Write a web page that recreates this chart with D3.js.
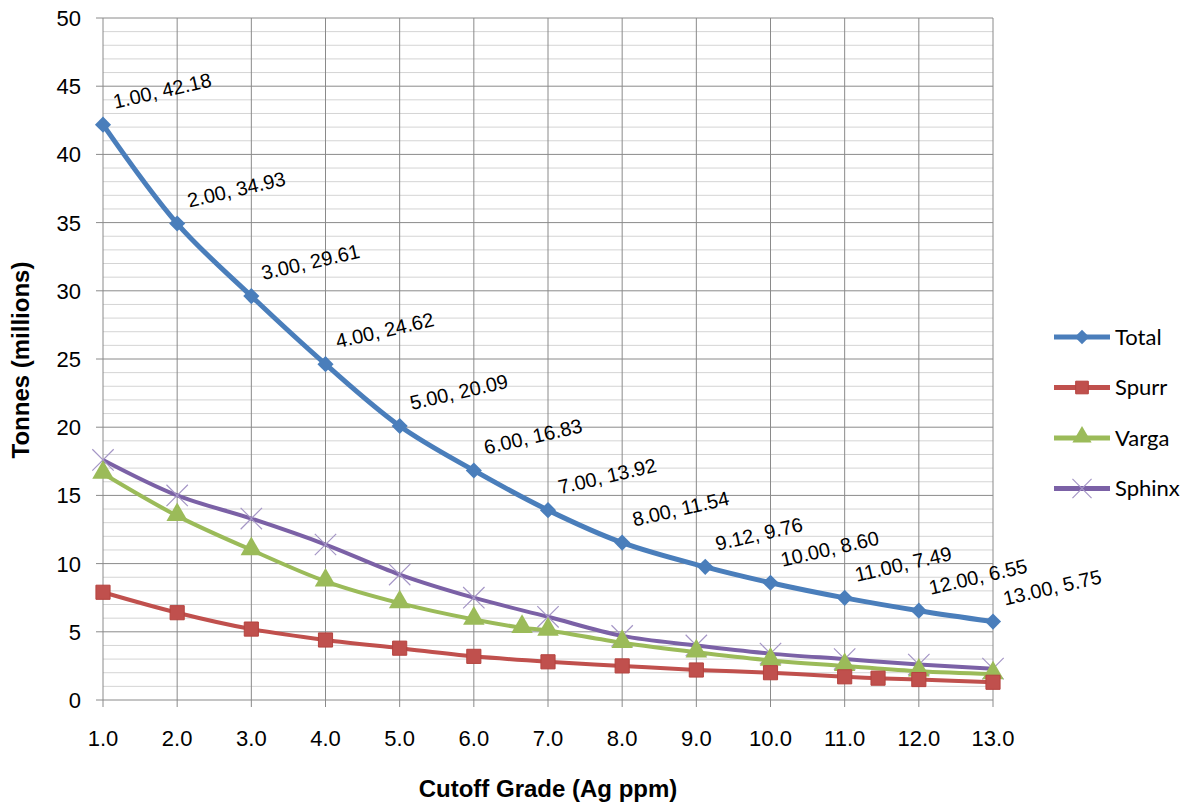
<!DOCTYPE html>
<html>
<head>
<meta charset="utf-8">
<title>Tonnes vs Cutoff Grade</title>
<script src="https://d3js.org/d3.v7.min.js"></script>
<style>
  body { margin: 0; background: #fff; }
  text { font-family: "Liberation Sans", Arial, sans-serif; fill: #000; }
  .legend text { font-family: Lato, "Open Sans", sans-serif; }
</style>
</head>
<body>
<div id="chart"></div>
<script>
// values
var totalX  = [1, 2, 3, 4, 5, 6, 7, 8, 9.12, 10, 11, 12, 13];
var totalY  = [42.18, 34.93, 29.61, 24.62, 20.09, 16.83, 13.92, 11.54, 9.76, 8.60, 7.49, 6.55, 5.75];
var spurrX  = [1, 2, 3, 4, 5, 6, 7, 8, 9, 10, 11, 11.45, 12, 13];
var spurrY  = [7.9, 6.4, 5.2, 4.4, 3.8, 3.2, 2.8, 2.5, 2.2, 2.0, 1.7, 1.6, 1.5, 1.3];
var vargaX  = [1, 2, 3, 4, 5, 6, 6.65, 7, 8, 9, 10, 11, 12, 13];
var vargaY  = [16.6, 13.5, 11.0, 8.7, 7.1, 5.9, 5.3, 5.1, 4.2, 3.5, 2.9, 2.5, 2.1, 1.9];
var sphinxX = [1, 2, 3, 4, 5, 6, 7, 8, 9, 10, 11, 12, 13];
var sphinxY = [17.6, 15.0, 13.3, 11.4, 9.2, 7.5, 6.1, 4.7, 4.0, 3.4, 3.0, 2.6, 2.3];

var seriesNames = ["Total", "Spurr", "Varga", "Sphinx"];
var xTicks = [1, 2, 3, 4, 5, 6, 7, 8, 9, 10, 11, 12, 13];
var yTicks = [0, 5, 10, 15, 20, 25, 30, 35, 40, 45, 50];
var yMinor = d3.range(0, 51, 1);

var width = 1196, height = 803;
var colors = { Total: "#4a7ebb", Spurr: "#c0504d", Varga: "#9bbb59", Sphinx: "#7b61a6" };

var svg = d3.select("#chart").append("svg")
  .attr("width", width)
  .attr("height", height);

var x = d3.scaleLinear().domain([1, 13]).range([103, 993]);
var y = d3.scaleLinear().domain([0, 50]).range([700, 18]);

// minor gridlines
svg.append("g").selectAll("line")
  .data(yMinor.filter(function(d) { return d % 5 != 0; }))
  .enter().append("line")
  .attr("x1", x(1)).attr("x2", x(13))
  .attr("y1", function(d) { return y(d); })
  .attr("y2", function(d) { return y(d); })
  .attr("stroke", "#d4d4d4")
  .attr("stroke-width", 1);

// major gridlines
svg.append("g").selectAll("line")
  .data(yTicks)
  .enter().append("line")
  .attr("x1", x(1) - 7).attr("x2", x(13))
  .attr("y1", function(d) { return y(d); })
  .attr("y2", function(d) { return y(d); })
  .attr("stroke", "#8a8a8a")
  .attr("stroke-width", 1);

svg.append("g").selectAll("line")
  .data(xTicks)
  .enter().append("line")
  .attr("x1", function(d) { return x(d); })
  .attr("x2", function(d) { return x(d); })
  .attr("y1", y(50)).attr("y2", y(0) + 7)
  .attr("stroke", "#8a8a8a")
  .attr("stroke-width", 1);

// tick labels
svg.append("g").selectAll("text")
  .data(yTicks)
  .enter().append("text")
  .attr("x", 81)
  .attr("y", function(d) { return y(d); })
  .attr("dy", "0.36em")
  .attr("text-anchor", "end")
  .style("font-size", "22px")
  .text(function(d) { return d; });

svg.append("g").selectAll("text")
  .data(xTicks)
  .enter().append("text")
  .attr("x", function(d) { return x(d); })
  .attr("y", 738)
  .attr("dy", "0.36em")
  .attr("text-anchor", "middle")
  .style("font-size", "22px")
  .text(function(d) { return d.toFixed(1); });

// axis titles
svg.append("text")
  .attr("x", 548).attr("y", 797)
  .attr("text-anchor", "middle")
  .style("font-size", "24px")
  .style("font-weight", "bold")
  .text("Cutoff Grade (Ag ppm)");

svg.append("text")
  .attr("transform", "translate(29,360) rotate(-90)")
  .attr("text-anchor", "middle")
  .style("font-size", "24px")
  .style("font-weight", "bold")
  .text("Tonnes (millions)");

// lines
var line = d3.line()
  .x(function(d) { return x(d[0]); })
  .y(function(d) { return y(d[1]); })
  .curve(d3.curveCatmullRom.alpha(0.5));

var series = [
  { name: "Total",  pts: d3.zip(totalX, totalY),   w: 5 },
  { name: "Spurr",  pts: d3.zip(spurrX, spurrY),   w: 4 },
  { name: "Varga",  pts: d3.zip(vargaX, vargaY),   w: 4 },
  { name: "Sphinx", pts: d3.zip(sphinxX, sphinxY), w: 4 }
];

function marker(g, name, cx, cy, s) {
  if (name == "Total") {
    g.append("path")
      .attr("d", d3.symbol().type(d3.symbolSquare).size(s * 6.5)())
      .attr("transform", "translate(" + cx + "," + cy + ") rotate(45)")
      .attr("fill", colors.Total);
  } else if (name == "Spurr") {
    g.append("path")
      .attr("d", d3.symbol().type(d3.symbolSquare).size(s * 10)())
      .attr("transform", "translate(" + cx + "," + cy + ")")
      .attr("fill", "#c0504d").attr("stroke", "#b5433f").attr("stroke-width", 1);
  } else if (name == "Varga") {
    g.append("path")
      .attr("d", d3.symbol().type(d3.symbolTriangle).size(s * 10)())
      .attr("transform", "translate(" + cx + "," + (cy - 1) + ")")
      .attr("fill", "#9bbb59");
  } else {
    g.append("path")
      .attr("d", d3.symbol().type(d3.symbolX).size(s * 15)())
      .attr("transform", "translate(" + cx + "," + cy + ")")
      .attr("fill", "none").attr("stroke", "#a596c6").attr("stroke-width", 1.2);
  }
}

// draw in reverse so Total sits on top
series.slice().reverse().forEach(function(s) {
  var g = svg.append("g");
  g.append("path")
    .attr("d", line(s.pts))
    .attr("fill", "none")
    .attr("stroke", colors[s.name])
    .attr("stroke-width", s.w);
  s.pts.forEach(function(p) {
    marker(g, s.name, x(p[0]), y(p[1]), 20);
  });
});

// data labels on Total
var f = d3.format(".2f");
svg.append("g").selectAll("text")
  .data(d3.zip(totalX, totalY))
  .enter().append("text")
  .attr("transform", function(d) {
    return "translate(" + (x(d[0]) + 12) + "," + (y(d[1]) - 16) + ") rotate(-13)";
  })
  .style("font-size", "20px")
  .text(function(d) { return f(d[0]) + ", " + f(d[1]); });

// legend
var legend = svg.append("g").attr("class", "legend");
seriesNames.forEach(function(name, i) {
  var ly = 337 + i * 50.5;
  legend.append("line")
    .attr("x1", 1054).attr("x2", 1110)
    .attr("y1", ly).attr("y2", ly)
    .attr("stroke", colors[name])
    .attr("stroke-width", 5);
  marker(legend, name, 1082, ly, 16);
  legend.append("text")
    .attr("x", 1115).attr("y", ly)
    .attr("dy", "0.35em")
    .style("font-size", "22px")
    .text(name);
});
</script>
</body>
</html>
